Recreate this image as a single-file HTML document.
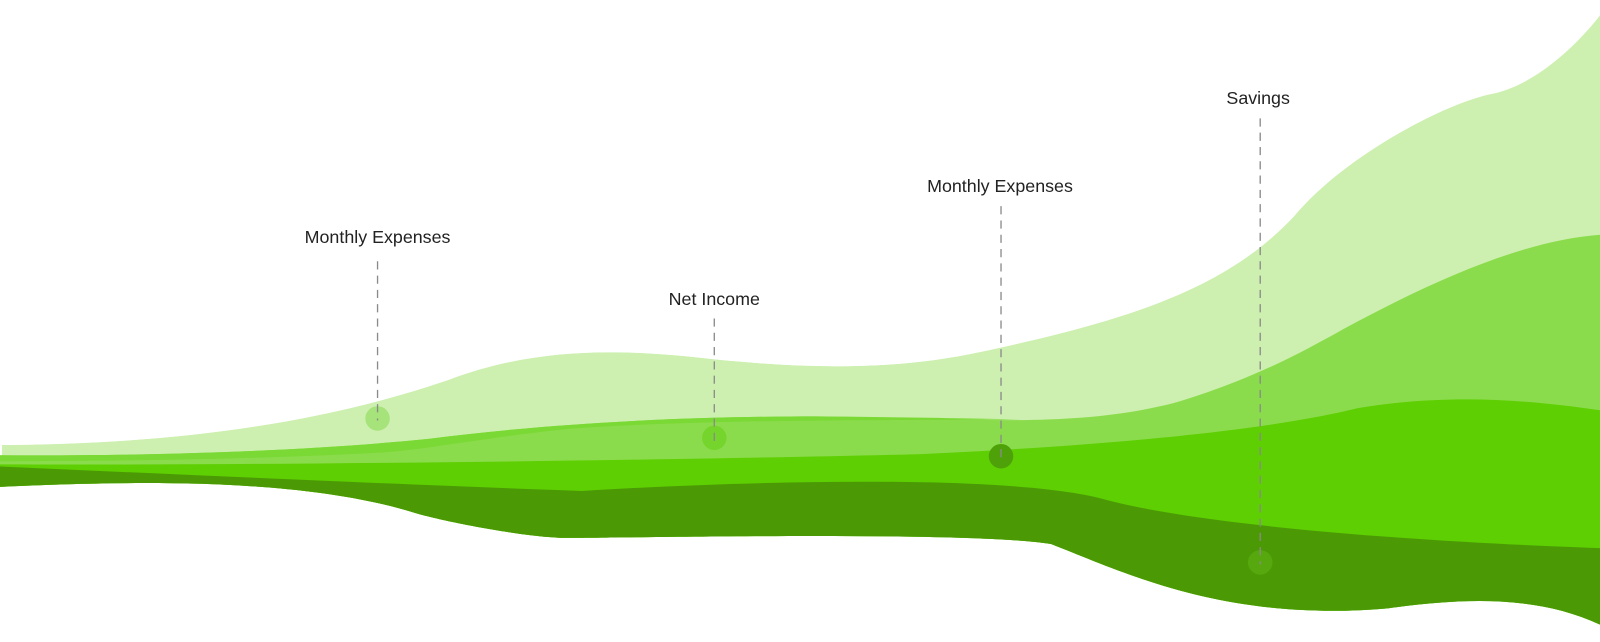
<!DOCTYPE html>
<html><head><meta charset="utf-8"><style>
html,body{margin:0;padding:0;background:#fff;}
svg{display:block}
text{font-family:"Liberation Sans",sans-serif;font-size:17.5px;fill:#222;}
</style></head><body>
<svg width="1600" height="642" viewBox="0 0 1568 629" preserveAspectRatio="none">
<defs>
<clipPath id="c">
<path d="M0,436 C150,435 300,420 440,372 C520,342 600,340 700,352 C800,362 880,362 960,345 C1100,315 1200,285 1268,212 C1320,150 1420,100 1462,92 C1520,80 1568,15 1568,15 L1568,612 C1500,580 1420,588 1360,596 C1200,610 1100,560 1030,533 C950,520 620,527 560,527 C520,528 430,510 405,502 C300,470 150,470 0,477 Z"/>
</clipPath>
</defs>
<g clip-path="url(#c)">
<path fill="#cdf0b0" d="M2,436 C150,435 300,420 440,372 C520,342 600,340 700,352 C800,362 880,362 960,345 C1100,315 1200,285 1268,212 C1320,150 1420,100 1462,92 C1520,80 1568,15 1568,15 L1568,640 L0,640 Z"/>
<path fill="#8bdc4c" d="M0,446 C150,447 300,442 420,430 C560,412 700,408 800,408 C950,410 1050,420 1150,395 C1250,365 1300,330 1340,310 C1420,268 1500,235 1568,230 L1568,640 L0,640 Z"/>
<path fill="#7ad934" d="M0,446 C150,447 300,442 420,430 C560,412 700,408 800,408 C900,409 960,410 1000,411 C900,412 700,410 560,420 C480,428 420,440 380,443 C300,448 150,452 0,452 Z"/>
<path fill="#5ecf02" d="M0,455 C300,456 700,450 900,445 C1100,436 1250,420 1330,400 C1420,385 1500,392 1568,402 L1568,640 L0,640 Z"/>
<path fill="#4b9a05" d="M0,457 C200,466 400,475 570,481 C750,470 1000,465 1085,490 C1200,520 1450,533 1568,537 L1568,640 L0,640 Z"/>
</g>
<circle cx="370" cy="410" r="12" fill="#a6e37a"/>
<circle cx="700" cy="429" r="12" fill="#76d52c"/>
<circle cx="981" cy="447" r="12" fill="#4fa10a"/>
<circle cx="1235" cy="551" r="12" fill="#57a80e"/>
<g stroke="#8a8a8a" stroke-width="1.3" stroke-dasharray="8,6">
<line x1="370" y1="256" x2="370" y2="412"/>
<line x1="700" y1="312" x2="700" y2="432"/>
<line x1="981" y1="202" x2="981" y2="450"/>
<line x1="1235" y1="116" x2="1235" y2="553"/>
</g>
<text x="370" y="238" text-anchor="middle">Monthly Expenses</text>
<text x="700" y="299" text-anchor="middle">Net Income</text>
<text x="980" y="188" text-anchor="middle">Monthly Expenses</text>
<text x="1233" y="102" text-anchor="middle">Savings</text>
</svg>
</body></html>
